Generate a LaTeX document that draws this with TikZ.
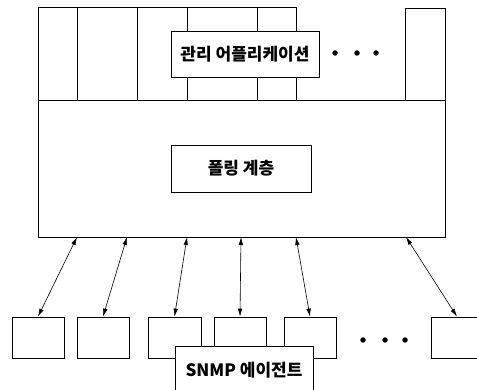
\documentclass[tikz,border=0pt]{standalone}
\usepackage{fontspec}
\newfontfamily\kr{Noto Sans CJK KR}
\usetikzlibrary{arrows.meta}

\tikzset{
  box/.style={draw, line width=0.8pt, fill=white, inner sep=0pt},
  lbl/.style={box, font=\kr\bfseries\fontsize{17}{19}\selectfont},
  link/.style={{Latex[length=8pt,width=4.5pt]}-{Latex[length=8pt,width=4.5pt]}, line width=0.6pt},
  dot/.style={circle, fill=black, inner sep=0pt, minimum size=5.5pt}
}

\begin{document}
\begin{tikzpicture}[x=1pt, y=-1pt, line width=0.8pt]
  \useasboundingbox[fill=white] (0,0) rectangle (477,390);

  % management applications
  \draw (38,100) -- (38,7) -- (296,7) -- (296,100);
  \draw (77,7) -- (77,100);
  \draw (137,7) -- (137,100);
  \draw (187,7) -- (187,100);
  \draw (257,7) -- (257,100);
  \draw (405,100) -- (405,8) -- (445,8) -- (445,100);
  \node[lbl, minimum width=148pt, minimum height=46pt] (app) at (245,54) {관리 어플리케이션};
  \foreach \x in {335,357,376}
    \node[dot] at (\x,53) {};

  % polling layer
  \node[box, minimum width=407pt, minimum height=137pt] (layer) at (241.5,168.5) {};
  \node[lbl, minimum width=140pt, minimum height=47pt] (poll) at (241,168.5) {폴링 계층};

  % agents
  \node[box, minimum width=52pt, minimum height=41pt] (a1) at (38,337.5) {};
  \node[box, minimum width=52pt, minimum height=41pt] (a2) at (103,337.5) {};
  \node[box, minimum width=53pt, minimum height=41pt] (a3) at (174.5,337.5) {};
  \node[box, minimum width=52pt, minimum height=41pt] (a4) at (240,337.5) {};
  \node[box, minimum width=52pt, minimum height=41pt] (a5) at (310,337.5) {};
  \node[box, minimum width=52pt, minimum height=41pt] (a6) at (457,337.5) {};
  \foreach \x in {363,385,405}
    \node[dot] at (\x,340) {};
  \node[lbl, minimum width=138pt, minimum height=52pt, text depth=6pt] (snmp) at (244,372) {SNMP 에이전트};

  % links
  \coordinate (p1) at (77,237);
  \coordinate (p2) at (127,237);
  \coordinate (p3) at (187,237);
  \coordinate (p4) at (241,237);
  \coordinate (p5) at (296,237);
  \coordinate (p6) at (406,237);
  \foreach \i in {1,...,6}
    \draw[link] (p\i) -- (a\i.north);
\end{tikzpicture}
\end{document}
